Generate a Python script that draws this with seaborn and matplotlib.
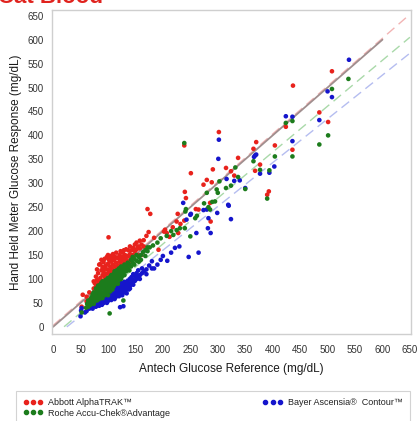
import numpy as np
import pandas as pd
import matplotlib
matplotlib.use("Agg")
import matplotlib.pyplot as plt
from matplotlib.ticker import MultipleLocator
from matplotlib.lines import Line2D
import seaborn as sns

# ---------------- data ----------------
# each entry: (Antech reference value, [hand-held meter readings at that reference])
abbott_points = [
    (508, [534]), (437, [504]), (485, [448]), (501, [428]), (424, [418]), (436, [370]), (404, [379]),
    (370, [386]), (365, [372]), (377, [339]), (368, [326]), (239, [379]), (302, [407]), (337, [353]),
    (251, [321]), (291, [329]), (315, [332]), (280, [307]), (289, [302]), (274, [297]), (324, [325]),
    (330, [316]), (393, [283]), (390, [276]), (240, [282]), (242, [269]), (227, [236]), (239, [222]),
    (260, [246]), (287, [220]), (172, [246]), (177, [236]), (101, [187]), (265, [245]), (286, [259]),
    (184, [186]), (204, [203]), (192, [161]), (202, [199]), (207, [196]), (212, [188]), (225, [220]),
    (228, [196]), (218, [208]), (232, [215]),
    (52, [42]), (54, [67]), (61, [63, 53]), (66, [72]),
    (74, [80, 95]), (76, [91, 70]), (78, [105, 84]), (80, [120, 76, 98]), (82, [88, 112]),
    (84, [130, 94, 72]), (86, [131, 102, 85]), (88, [118, 80, 140]), (90, [96, 125, 108]),
    (92, [135, 88, 115]), (94, [104, 142, 122, 92]), (96, [128, 110, 85]), (98, [146, 100, 120]),
    (100, [132, 94, 112, 150]), (102, [118, 140, 104]), (104, [126, 96, 148]), (106, [136, 114, 102]),
    (107, [144, 122]), (109, [130, 108, 152]), (111, [118, 140, 98]), (113, [146, 126, 110]),
    (115, [134, 155, 116]), (117, [122, 144, 104]), (119, [144, 128, 112]), (121, [150, 136, 118]),
    (123, [126, 158, 140]), (125, [146, 120, 132]), (127, [155, 138, 112]), (129, [144, 126, 160]),
    (131, [150, 132]), (133, [140, 162, 122]), (135, [148, 128]), (137, [147, 160, 135]),
    (140, [152, 138, 168]), (143, [160, 145]), (146, [165, 150]), (149, [172, 158]), (152, [162, 176]),
    (155, [168, 150]), (158, [180, 164]), (161, [172, 150]), (165, [181, 168]), (170, [190]), (174, [198]),
]

roche_points = [
    (538, [518]), (508, [497]), (501, [400]), (485, [381]), (424, [426]), (436, [430, 356]), (404, [356]),
    (394, [327]), (365, [346]), (377, [328]), (239, [384]), (303, [304]), (332, [333]), (337, [313]),
    (324, [295]), (350, [288]), (390, [268]), (242, [246]), (262, [232]), (225, [202]), (283, [250]),
    (295, [262]), (300, [280]), (275, [258]), (280, [280]), (298, [287]), (290, [261]), (315, [290]),
    (286, [245]), (241, [241]), (231, [206]), (240, [206]), (250, [189]), (259, [227]),
    (52, [30]), (60, [40]), (62, [48]), (64, [55, 42]), (66, [50]), (68, [58, 46]), (70, [62, 52]),
    (72, [55, 68]), (74, [60, 48, 72]), (76, [66, 54]), (78, [70, 58, 80]), (80, [64, 74, 55]),
    (82, [78, 62, 86]), (84, [70, 82, 58]), (86, [74, 88, 64]), (88, [80, 68, 92]), (90, [72, 86, 60, 95]),
    (92, [82, 70, 90]), (94, [78, 92, 66]), (96, [86, 74, 98]), (98, [80, 94, 70]),
    (100, [88, 76, 102, 66]), (102, [92, 80, 98]), (103, [28]), (104, [86, 104, 74]), (106, [94, 82, 108]),
    (108, [90, 100, 78]), (110, [96, 110, 84]), (112, [88, 104, 116]), (114, [100, 92, 112]),
    (116, [108, 96, 118]), (118, [102, 114, 90]), (120, [110, 98, 122]), (122, [104, 116]),
    (124, [112, 100, 126]), (126, [118, 106]), (128, [55, 114, 124]), (130, [108, 120, 130]),
    (133, [116, 128]), (136, [122, 134]), (139, [118, 130]), (142, [126, 140]), (145, [134, 146]),
    (148, [130, 142]), (152, [138, 150]), (156, [146, 136]), (160, [150, 140]), (164, [156]),
    (168, [160, 148]), (172, [158, 166]), (176, [166]), (182, [170]), (190, [176]), (196, [185]),
    (207, [190]), (215, [200]), (219, [192]),
]

bayer_points = [
    (539, [558]), (500, [492]), (508, [480]), (485, [432]), (424, [440]), (436, [439, 388]), (403, [335]),
    (394, [322]), (368, [358]), (366, [355]), (370, [360]), (377, [320]), (302, [391]), (301, [351]),
    (316, [309]), (330, [305]), (340, [306]), (350, [290]), (237, [259]), (251, [236]), (324, [225]),
    (320, [253]), (287, [196]), (299, [238]), (280, [245]), (274, [244]), (261, [196]), (243, [224]),
    (283, [227]), (282, [206]), (319, [255]), (250, [234]),
    (50, [22]), (51, [34]), (52, [39]), (58, [30]), (61, [33]), (64, [45]), (66, [38]), (68, [50]),
    (70, [42, 55]), (72, [48, 38]), (74, [52, 44]), (76, [58, 46]), (78, [50, 62, 42]), (80, [54, 46, 64]),
    (82, [58, 48]), (84, [62, 50, 44]), (86, [56, 66, 48]), (88, [60, 52, 70]), (89, [46]),
    (90, [64, 54, 58]), (92, [68, 56, 50]), (94, [60, 72, 52]), (96, [64, 56, 74]), (98, [68, 58, 50]),
    (100, [62, 72, 54]), (102, [66, 76, 58]), (104, [70, 60, 80]), (106, [64, 74, 56]), (108, [68, 78, 60]),
    (110, [72, 62, 82]), (112, [76, 66, 58]), (114, [70, 80, 62]), (116, [74, 84, 66]), (118, [78, 68, 88]),
    (120, [72, 82, 64]), (122, [41, 76, 86]), (124, [70, 80, 92]), (126, [74, 84, 66]), (128, [43, 78, 88]),
    (130, [72, 82, 94]), (132, [76, 86]), (134, [80, 92, 70]), (136, [84, 96]), (138, [78, 90]),
    (140, [86, 100, 80]), (143, [92, 104]), (146, [88, 98, 110]), (149, [96, 106]), (152, [100, 112]),
    (155, [104, 118]), (158, [108, 100]), (162, [112, 122]), (166, [116]), (170, [120, 110]), (175, [128]),
    (180, [122, 137]), (184, [122]), (190, [130]), (196, [140]), (200, [148]), (208, [138]), (215, [155]),
    (222, [165]), (230, [168]), (247, [146]), (265, [155]),
]

series_names = ["Abbott AlphaTRAK\u2122", "Bayer Ascensia\u00ae  Contour\u2122", "Roche Accu-Chek\u00aeAdvantage"]
series_colors = ["#e8221c", "#1515cc", "#1c7c1c"]

# reference / fit lines: [x_start, x_end], intercept, slope
identity_x = [0, 600]
abbott_fit = ([0, 650], 3.0, 1.0)
roche_fit = ([20, 650], -19.0, 0.96)
bayer_fit = ([25, 650], -23.0, 0.915)
fit_colors = ["#f2b4b4", "#a9d9a9", "#b5bdf0"]

x_ticks = list(range(0, 651, 50))
y_ticks = list(range(0, 651, 50))


# ---------------- build frame ----------------
def frame(points, name):
    rows = [(x, y) for x, ys in points for y in ys]
    xs, ys = zip(*rows)
    return pd.DataFrame({"ref": xs, "meter": ys, "Meter": name})


df = pd.concat([
    frame(abbott_points, series_names[0]),
    frame(bayer_points, series_names[1]),
    frame(roche_points, series_names[2]),
], ignore_index=True)

sns.set_style("white")
plt.rcParams["font.family"] = ["Liberation Sans", "DejaVu Sans"]

fig = plt.figure(figsize=(4.17, 4.21), dpi=100)
ax = fig.add_axes([52 / 417, 1 - 334 / 421, 359 / 417, 324 / 421])

# fit lines
for (xs, b, m), c in zip([bayer_fit, roche_fit, abbott_fit], [fit_colors[2], fit_colors[1], fit_colors[0]]):
    xs = np.array(xs, dtype=float)
    ax.plot(xs, b + m * xs, color=c, lw=1.0, ls=(0, (7, 4)), zorder=1)
ix = np.array(identity_x, dtype=float)
ax.plot(ix, ix, color="#a08e8e", lw=1.3, zorder=1.5)

palette = {series_names[0]: series_colors[0], series_names[1]: series_colors[1],
           series_names[2]: series_colors[2]}
sns.scatterplot(data=df, x="ref", y="meter", hue="Meter", palette=palette, s=11,
                linewidth=0, ax=ax, legend=False, zorder=3)

ax.set_xlim(-2, 652)
ax.set_ylim(-15, 662)
ax.set_xticks(x_ticks)
ax.set_yticks(y_ticks)
ax.xaxis.set_minor_locator(MultipleLocator(10))
ax.yaxis.set_minor_locator(MultipleLocator(10))
ax.tick_params(axis="both", which="major", direction="out", length=3, width=0.7,
               color="#b0b0b0", labelsize=7, labelcolor="#333333", pad=2)
ax.tick_params(axis="both", which="minor", direction="out", length=2, width=0.5, color="#c0c0c0")
ax.tick_params(axis="x", pad=5)
ax.tick_params(axis="y", pad=3)
for sp in ax.spines.values():
    sp.set_color("#cfcfcf")
    sp.set_linewidth(1.0)
ax.set_xlabel("Antech Glucose Reference (mg/dL)", fontsize=8.5, color="#1a1a1a", labelpad=6)
ax.set_ylabel("Hand Held Meter Glucose Response (mg/dL)", fontsize=8.5, color="#1a1a1a", labelpad=4)

# title (partially cut at top of the image, as in the reference)
fig.text(-0.004, 1 - 3 / 421, "Cat Blood", color="#e0231e", fontsize=16, fontweight="bold",
         va="baseline", ha="left")

# legend
handles = [Line2D([0], [0], marker="o", ls="none", color=series_colors[0], markersize=3),
           Line2D([0], [0], marker="o", ls="none", color=series_colors[2], markersize=3),
           Line2D([0], [0], marker="o", ls="none", color=series_colors[1], markersize=3)]
labels = [series_names[0], series_names[2], series_names[1]]
leg = fig.legend(handles, labels, ncol=2, loc="upper left", numpoints=3,
                 bbox_to_anchor=(16 / 417, 1 - 391 / 421, 394 / 417, 0.0), mode="expand",
                 fontsize=6.5, frameon=True, fancybox=False, handlelength=2.2, handletextpad=0.6,
                 labelspacing=0.15, borderpad=0.8, columnspacing=1.0, borderaxespad=0)
leg.get_frame().set_edgecolor("#c8c8c8")
leg.get_frame().set_linewidth(0.8)
for t in leg.get_texts():
    t.set_color("#222222")

fig.savefig("out.png", dpi=100)
